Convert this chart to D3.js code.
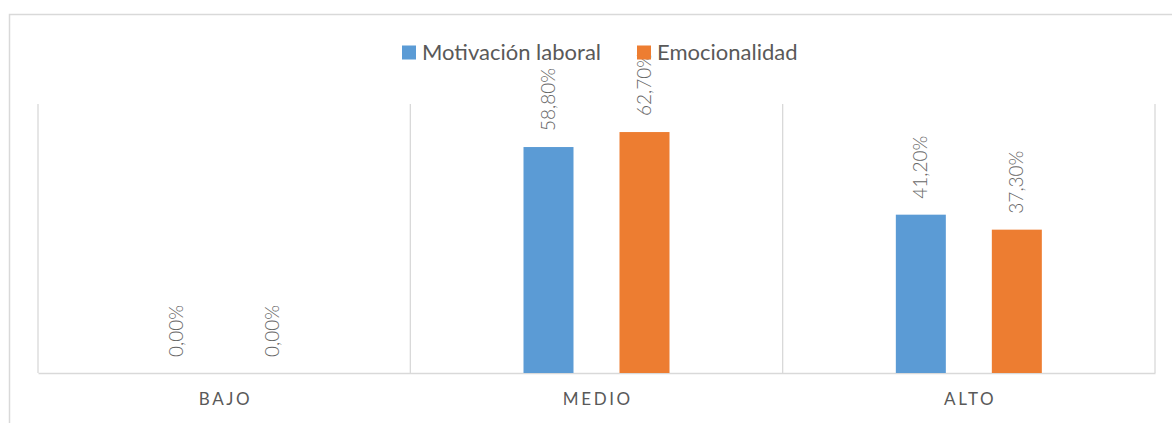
<!DOCTYPE html>
<html><head><meta charset="utf-8">
<script src="https://cdn.jsdelivr.net/npm/d3@7"></script>
<style>body{margin:0;background:#fff}svg{display:block}</style>
</head><body><svg id="c" width="1172" height="423"></svg>
<script>
const categories = ["BAJO", "MEDIO", "ALTO"];
const seriesNames = ["Motivación laboral", "Emocionalidad"];
const motivacion = [0.0, 58.8, 41.2];
const emocionalidad = [0.0, 62.7, 37.3];
const labelsMotivacion = ["0,00%", "58,80%", "41,20%"];
const labelsEmocionalidad = ["0,00%", "62,70%", "37,30%"];
const colors = ["#5B9BD5", "#ED7D31"];

const svg = d3.select("#c");
const FONT = "Lato, 'Open Sans', sans-serif";
const grid = "#D9D9D9";
const pLeft = 38, pRight = 1155, pTop = 104, pBottom = 373;

svg.append("rect").attr("x", 9.5).attr("y", 14.5).attr("width", 1300).attr("height", 600)
  .attr("fill", "none").attr("stroke", grid).attr("stroke-width", 1.5);

const x = d3.scaleBand().domain(categories).range([pLeft, pRight]).padding(0);
const y = d3.scaleLinear().domain([0, 70]).range([pBottom, pTop]);
const inner = d3.scaleBand().domain(seriesNames).range([-73, 73]).paddingInner(46 / 96).paddingOuter(0);

// vertical category gridlines
const bounds = categories.map(c => x(c)).concat([pRight]);
svg.selectAll("line.vg").data(bounds).enter().append("line")
  .attr("x1", d => d).attr("x2", d => d).attr("y1", pTop).attr("y2", pBottom)
  .attr("stroke", grid).attr("stroke-width", 1.3);

// x axis
const xAxis = svg.append("g").attr("transform", `translate(0,${pBottom})`)
  .call(d3.axisBottom(x).tickSize(0).tickPadding(20));
xAxis.select(".domain").attr("stroke", grid).attr("stroke-width", 1.5);
xAxis.selectAll("text").attr("font-family", FONT).attr("font-size", 17)
  .attr("fill", "#595959").attr("letter-spacing", "2.6px").attr("dx", "1.3px");

const series = [
  {name: seriesNames[0], values: motivacion, labels: labelsMotivacion, color: colors[0]},
  {name: seriesNames[1], values: emocionalidad, labels: labelsEmocionalidad, color: colors[1]}
];

series.forEach(s => {
  const g = svg.append("g");
  categories.forEach((c, i) => {
    const bx = x(c) + x.bandwidth() / 2 + inner(s.name);
    const bw = inner.bandwidth();
    const v = s.values[i];
    g.append("rect").attr("x", bx).attr("y", y(v)).attr("width", bw)
      .attr("height", y(0) - y(v)).attr("fill", s.color);
    const cx = bx + bw / 2, ty = y(v) - 16;
    g.append("text").attr("transform", `translate(${cx + 6.5},${ty}) rotate(-90)`)
      .attr("font-family", FONT).attr("font-size", 19).attr("fill", "#666")
      .attr("font-weight", 300)
      .text(s.labels[i]);
  });
});

// legend
const legendItems = [{name: seriesNames[0], color: colors[0], x: 402}, {name: seriesNames[1], color: colors[1], x: 637}];
legendItems.forEach(it => {
  svg.append("rect").attr("x", it.x).attr("y", 45.5).attr("width", 14).attr("height", 14).attr("fill", it.color);
  svg.append("text").attr("x", it.x + 20).attr("y", 59.5).attr("font-family", FONT)
    .attr("font-size", 22).attr("fill", "#595959").text(it.name);
});
</script></body></html>
